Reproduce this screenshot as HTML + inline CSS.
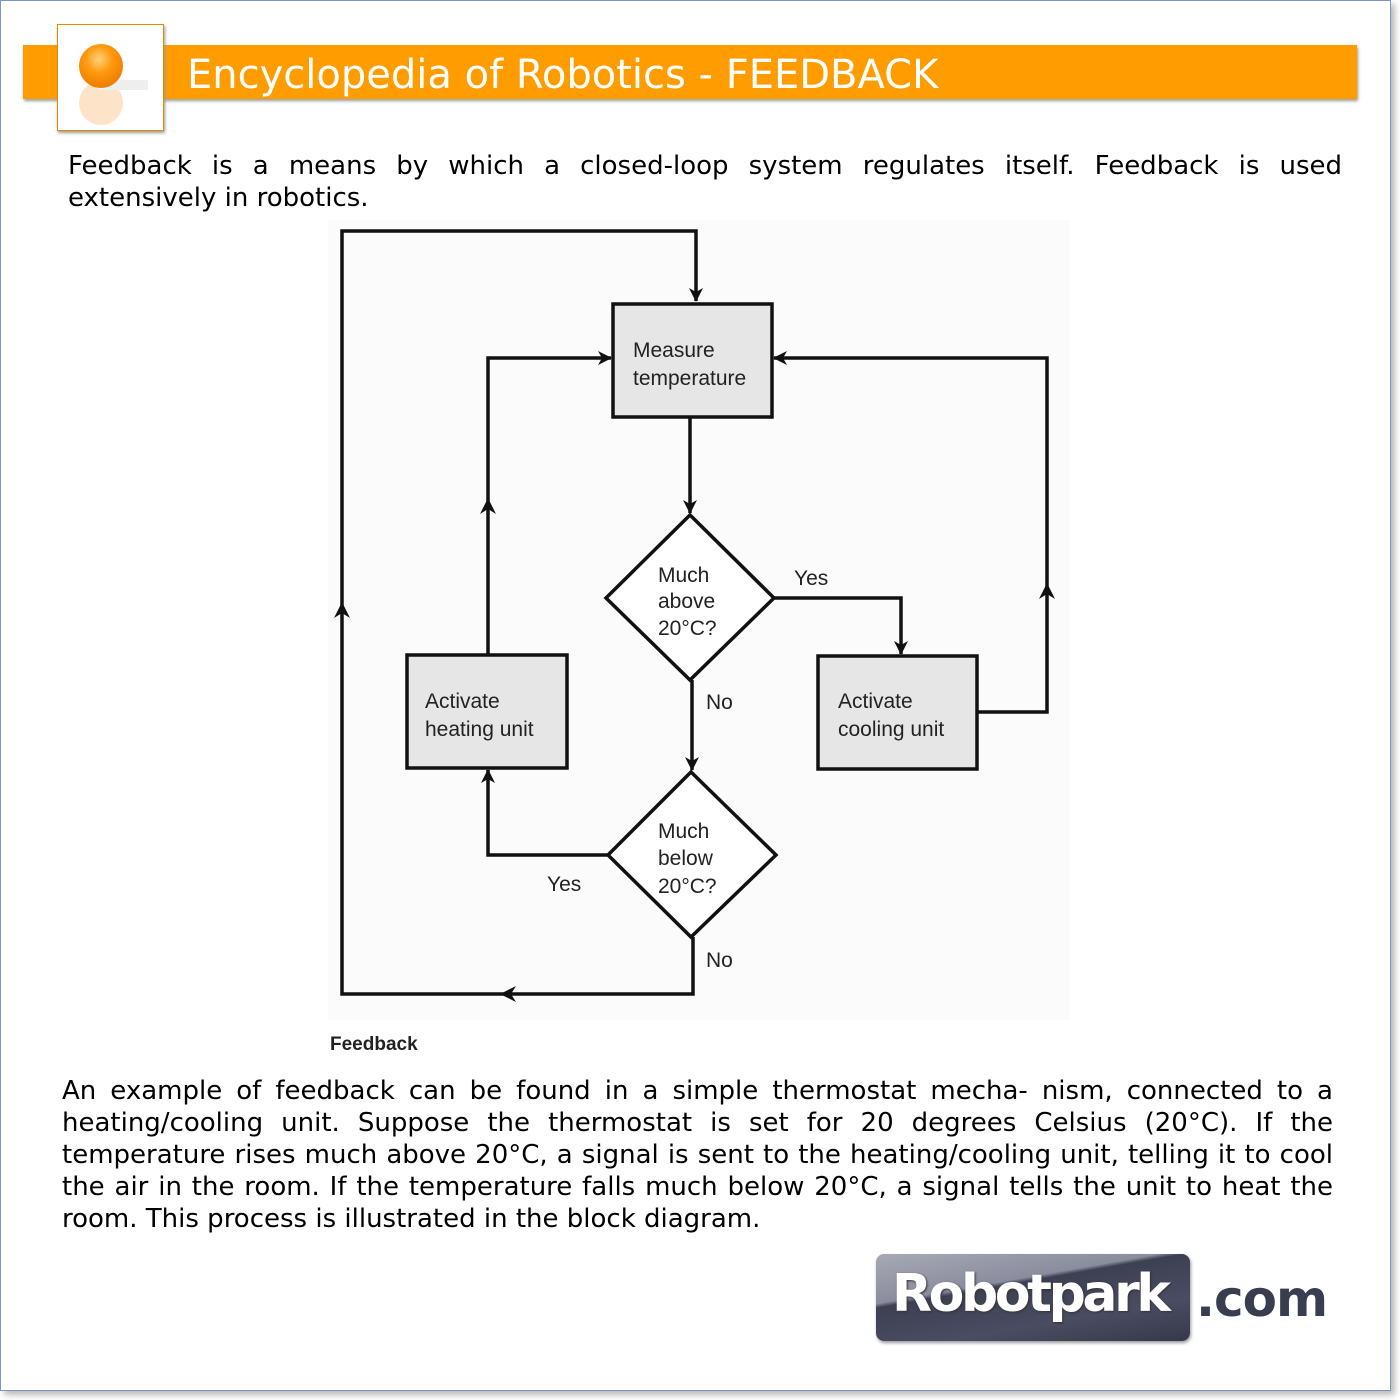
<!DOCTYPE html>
<html><head><meta charset="utf-8"><style>
body{margin:0;width:1400px;height:1400px;background:#fff;position:relative;overflow:hidden;font-family:"DejaVu Sans","Liberation Sans",sans-serif;}
.frame{position:absolute;left:0;top:0;width:1389px;height:1389px;border:1px solid #7a96c8;box-shadow:4px 4px 6px #bbb;}
.bar{position:absolute;left:23px;top:45px;width:1334px;height:54px;background:#ff9c00;box-shadow:1px 2px 3px #999;}
.title{position:absolute;left:187px;top:50px;color:#fff;font-size:40px;line-height:50px;white-space:nowrap;}
.icon{position:absolute;left:57px;top:24px;width:105px;height:105px;background:#fff;border:1px solid #e88a00;box-shadow:1px 2px 3px #999;}
.p{position:absolute;font-size:26px;line-height:32px;color:#000;text-align:justify;}
.logo{position:absolute;left:876px;top:1254px;width:314px;height:87px;border-radius:8px;background:linear-gradient(170deg,#a7a9b6 0%,#8b8d9e 35%,#3d3f52 38%,#4a4c62 70%,#36384a 100%);box-shadow:1px 2px 3px #999;}
</style></head><body>
<div class="frame"></div>
<div class="bar"></div>
<div class="icon"><svg width="105" height="105"><defs><radialGradient id="g" cx="0.45" cy="0.35" r="0.6"><stop offset="0" stop-color="#ffd27a"/><stop offset="0.5" stop-color="#ff9a10"/><stop offset="1" stop-color="#f08000"/></radialGradient></defs><circle cx="43" cy="78" r="22" fill="#fde3c8"/><rect x="40" y="55" width="50" height="10" fill="#eee"/><circle cx="43" cy="41" r="22" fill="url(#g)"/></svg></div>
<div class="title">Encyclopedia of Robotics - FEEDBACK</div>
<div class="p" style="left:68px;top:150px;width:1274px;">Feedback&nbsp; is&nbsp; a&nbsp; means&nbsp; by&nbsp; which&nbsp; a&nbsp; closed-loop&nbsp; system&nbsp; regulates&nbsp; itself.&nbsp; Feedback&nbsp; is&nbsp; used extensively in robotics.</div>
<svg style="position:absolute;left:0;top:0" width="1400" height="1400">
<defs><marker id="a" markerWidth="14" markerHeight="14" refX="13" refY="7" orient="auto" markerUnits="userSpaceOnUse"><path d="M0,0 L14,7 L0,14 L4,7 z" fill="#111"/></marker></defs>
<rect x="328" y="220" width="742" height="800" fill="#fbfbfb"/>
<g fill="none" stroke="#111" stroke-width="3.5">
<polyline points="693,937 693,994 342,994 342,231 696,231 696,301" marker-end="url(#a)"/>
<polyline points="488,655 488,358 611,358" marker-end="url(#a)"/>
<polyline points="608,855 488,855 488,770" marker-end="url(#a)"/>
<polyline points="774,598 901,598 901,654" marker-end="url(#a)"/>
<polyline points="977,712 1047,712 1047,358 774,358" marker-end="url(#a)"/>
<line x1="690" y1="417" x2="690" y2="513" marker-end="url(#a)"/>
<line x1="692" y1="680" x2="692" y2="770" marker-end="url(#a)"/>
</g>
<g fill="#111">
<path d="M500,994 l16,-8 l-5,8 l5,8z"/>
<path d="M342,602 l-8,16 l8,-5 l8,5z"/>
<path d="M488,498 l-8,16 l8,-5 l8,5z"/>
<path d="M1047,583 l-8,16 l8,-5 l8,5z"/>
</g>
<g fill="#e6e6e6" stroke="#111" stroke-width="3.5">
<rect x="613" y="304" width="159" height="113"/>
<rect x="407" y="655" width="160" height="113"/>
<rect x="818" y="656" width="159" height="113"/>
<polygon points="690,515 774,598 690,680 606,598" fill="#fff"/>
<polygon points="691,772 776,855 691,937 608,855" fill="#fff"/>
</g>
<g font-family="Liberation Sans,sans-serif" font-size="21" fill="#222">
<text x="633" y="357">Measure</text><text x="633" y="385">temperature</text>
<text x="425" y="708">Activate</text><text x="425" y="736">heating unit</text>
<text x="838" y="708">Activate</text><text x="838" y="736">cooling unit</text>
<text x="658" y="582">Much</text><text x="658" y="608">above</text><text x="658" y="635">20°C?</text>
<text x="658" y="838">Much</text><text x="658" y="865">below</text><text x="658" y="893">20°C?</text>
<text x="794" y="585">Yes</text><text x="706" y="709">No</text>
<text x="547" y="891">Yes</text><text x="706" y="967">No</text>
<text x="330" y="1050" font-weight="bold" font-size="19">Feedback</text>
</g>
</svg>
<div class="p" style="left:62px;top:1075px;width:1271px">An example of feedback can be found in a simple thermostat mecha- nism, connected to a heating/cooling unit. Suppose the thermostat is set for 20 degrees Celsius (20°C). If the temperature rises much above 20°C, a signal is sent to the heating/cooling unit, telling it to cool the air in the room. If the temperature falls much below 20°C, a signal tells the unit to heat the room. This process is illustrated in the block diagram.</div>
<div class="logo"><div style="position:absolute;left:16px;top:10px;color:#fff;font:bold 52px 'DejaVu Sans',sans-serif;letter-spacing:-3.4px;text-shadow:1px 1px 2px #333">Robotpark</div></div>
<div style="position:absolute;left:1196px;top:1270px;color:#3a3c4f;font:bold 50px 'DejaVu Sans',sans-serif;letter-spacing:-1px">.com</div>
</body></html>
